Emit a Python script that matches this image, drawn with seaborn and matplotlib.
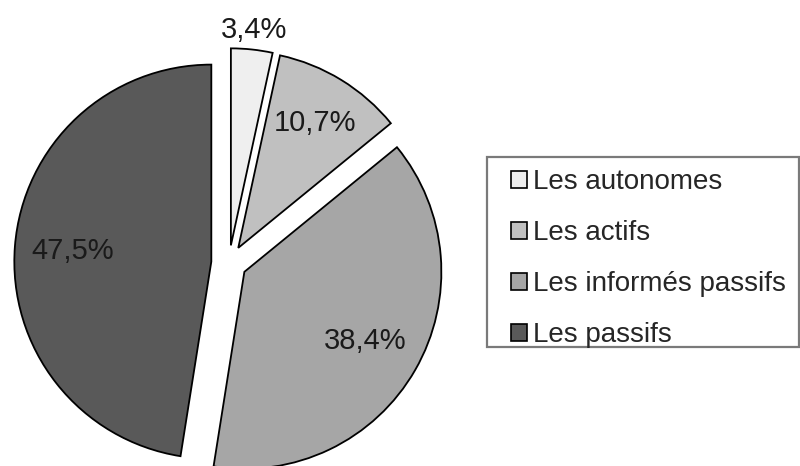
import matplotlib
matplotlib.use("Agg")
import matplotlib.pyplot as plt
from matplotlib.patches import Rectangle
import numpy as np
import seaborn as sns

# data
categories = ["Les autonomes", "Les actifs", "Les informés passifs", "Les passifs"]
shares = [3.4, 10.7, 38.4, 47.5]
colors = ["#efefef", "#c0c0c0", "#a6a6a6", "#595959"]

# distance of each percentage label from its wedge centre (in radii)
label_dist = [1.10, 0.745, 0.707, 0.708]


def fmt_pct(v):
    return f"{v:.1f}".replace(".", ",") + "%"


def main():
    sns.set_theme(style="white")
    plt.rcParams["font.family"] = ["Liberation Sans", "DejaVu Sans"]

    fig = plt.figure(figsize=(8, 4.66), dpi=100)
    # square axes, 1 data unit = 197 px, centre at (229, 263) px from top-left
    half = 1.3 * 197
    ax = fig.add_axes([(229 - half) / 800, (203 - half) / 466, 2 * half / 800, 2 * half / 466])

    wedges, _ = ax.pie(shares, colors=colors, startangle=90, counterclock=False,
                       explode=[0.09] * len(shares),
                       wedgeprops=dict(edgecolor="black", linewidth=1.3))
    ax.set_xlim(-1.3, 1.3)
    ax.set_ylim(-1.3, 1.3)
    ax.set_aspect("equal")
    ax.axis("off")

    # percentage labels placed along each wedge's mid angle
    for w, v, d in zip(wedges, shares, label_dist):
        mid = np.deg2rad((w.theta1 + w.theta2) / 2)
        cx, cy = w.center
        ax.text(cx + d * np.cos(mid), cy + d * np.sin(mid), fmt_pct(v),
                ha="center", va="center", fontsize=21, color="#1a1a1a")

    # legend box
    fig.patches.append(Rectangle((487 / 800, 1 - 347 / 466), 312 / 800, 190 / 466,
                                 transform=fig.transFigure, fill=False,
                                 edgecolor="#7a7a7a", linewidth=1.6))
    leg = fig.legend(wedges, categories, loc="upper left",
                     bbox_to_anchor=(511 / 800, 1 - 169 / 466),
                     fontsize=20, frameon=False,
                     handlelength=0.58, handleheight=0.58, handletextpad=0.2,
                     labelspacing=0.9, borderpad=0, borderaxespad=0)
    for h in leg.legend_handles:
        h.set_linewidth(1.2)

    plt.savefig("out.png", dpi=100)


if __name__ == "__main__":
    main()
